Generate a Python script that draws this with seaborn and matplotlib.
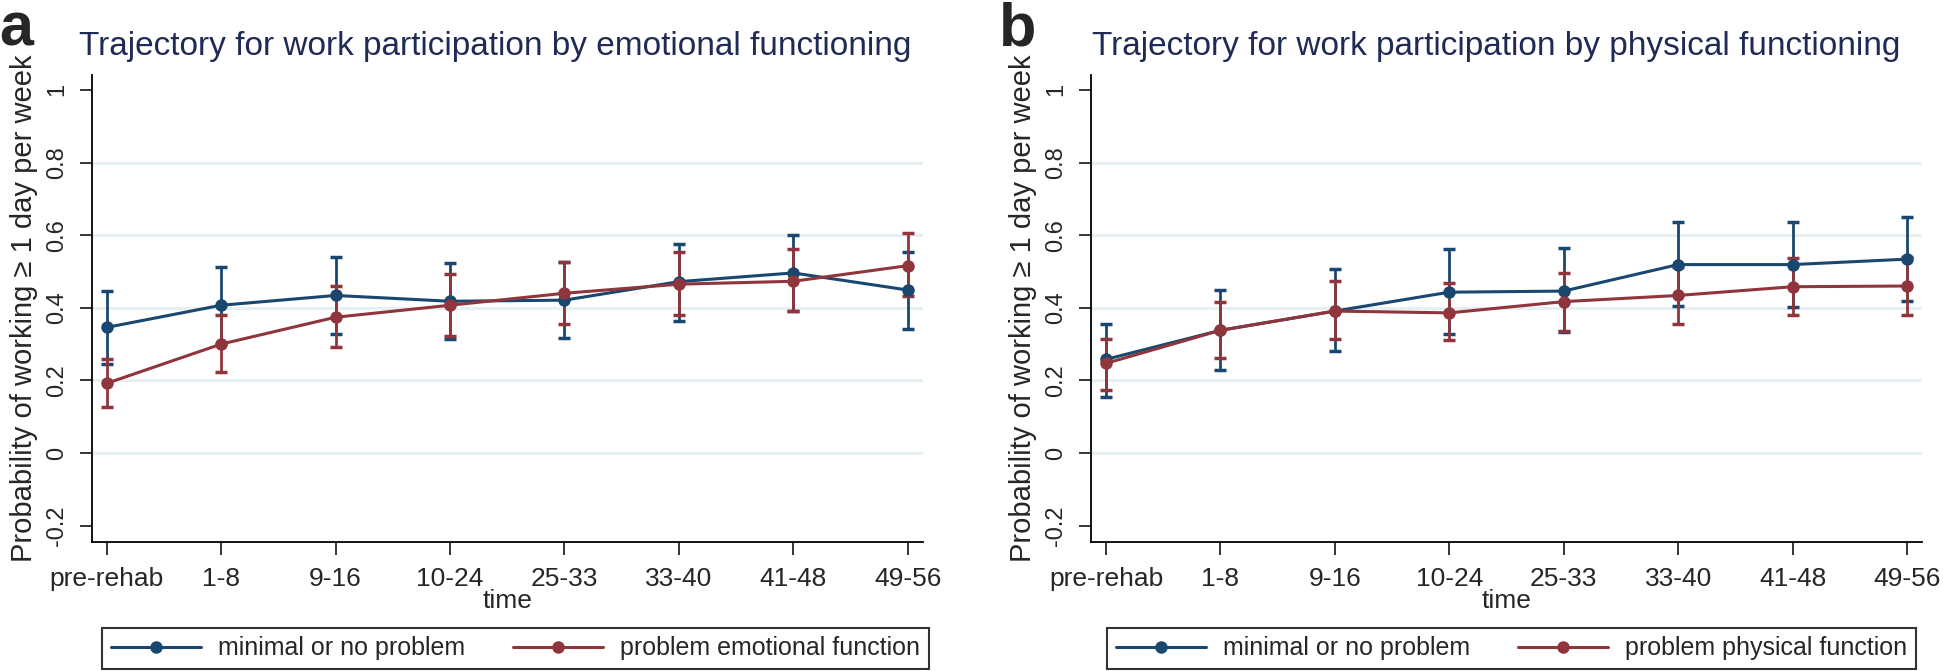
import pandas as pd
import matplotlib
matplotlib.use('Agg')
import matplotlib.pyplot as plt
from matplotlib.lines import Line2D
import seaborn as sns

# Data
time_labels = ['pre-rehab', '1-8', '9-16', '10-24', '25-33', '33-40', '41-48', '49-56']

# panel a: emotional functioning
emo_none = [0.346, 0.407, 0.434, 0.418, 0.421, 0.472, 0.496, 0.449]
emo_none_lo = [0.244, 0.300, 0.329, 0.314, 0.318, 0.364, 0.390, 0.342]
emo_none_hi = [0.446, 0.513, 0.541, 0.522, 0.525, 0.575, 0.600, 0.553]
emo_prob = [0.192, 0.300, 0.374, 0.407, 0.440, 0.465, 0.473, 0.516]
emo_prob_lo = [0.127, 0.223, 0.292, 0.323, 0.355, 0.381, 0.390, 0.432]
emo_prob_hi = [0.260, 0.381, 0.460, 0.493, 0.527, 0.553, 0.562, 0.605]

# panel b: physical functioning
phys_none = [0.258, 0.338, 0.391, 0.443, 0.446, 0.519, 0.519, 0.534]
phys_none_lo = [0.154, 0.228, 0.280, 0.329, 0.333, 0.405, 0.403, 0.418]
phys_none_hi = [0.356, 0.449, 0.506, 0.561, 0.564, 0.637, 0.637, 0.651]
phys_prob = [0.247, 0.338, 0.391, 0.386, 0.417, 0.434, 0.458, 0.460]
phys_prob_lo = [0.175, 0.262, 0.314, 0.311, 0.335, 0.356, 0.379, 0.381]
phys_prob_hi = [0.314, 0.416, 0.473, 0.467, 0.496, 0.513, 0.538, 0.540]

NAVY = '#1a476f'
MAROON = '#90353b'
GRID = '#e6eff1'
TITLE_C = '#1f2a55'

sns.set_style('white')
plt.rcParams['font.family'] = ['Liberation Sans', 'DejaVu Sans']

W, H = 1943, 671
fig = plt.figure(figsize=(W / 100, H / 100), dpi=100)


def panel(left_px, letter, title, title_cx, none_vals, none_lo, none_hi,
          prob_vals, prob_lo, prob_hi, prob_label, leg_x0):
    ax = fig.add_axes([left_px / W, 1 - 542.3 / H, 831 / W, (542.3 - 75) / H])
    pos = list(range(len(time_labels)))
    df = pd.DataFrame({
        'pos': pos * 2,
        'prob': none_vals + prob_vals,
        'group': ['minimal or no problem'] * len(pos) + [prob_label] * len(pos),
    })
    for y in [0, 0.2, 0.4, 0.6, 0.8]:
        ax.axhline(y, color=GRID, lw=2.2, zorder=0)
    ax.errorbar(pos, none_vals,
                yerr=[[v - l for v, l in zip(none_vals, none_lo)],
                      [h - v for v, h in zip(none_vals, none_hi)]],
                fmt='none', ecolor=NAVY, elinewidth=2.0, capsize=4, capthick=2.5, zorder=2)
    ax.errorbar(pos, prob_vals,
                yerr=[[v - l for v, l in zip(prob_vals, prob_lo)],
                      [h - v for v, h in zip(prob_vals, prob_hi)]],
                fmt='none', ecolor=MAROON, elinewidth=2.0, capsize=4, capthick=2.5, zorder=3)
    sns.lineplot(data=df, x='pos', y='prob', hue='group',
                 palette=[NAVY, MAROON], marker='o', markersize=9,
                 markeredgewidth=0, linewidth=2.2, legend=False, ax=ax, zorder=4)
    ax.set_xlim(-0.131, 7.131)
    ax.set_ylim(-0.2457, 1.041)
    ax.set_xticks(pos)
    ax.set_xticklabels(time_labels, fontsize=19)
    ax.set_yticks([-0.2, 0, 0.2, 0.4, 0.6, 0.8, 1])
    ax.set_yticklabels(['-0.2', '0', '0.2', '0.4', '0.6', '0.8', '1'],
                       rotation=90, va='center', fontsize=17)
    ax.tick_params(axis='x', length=9, width=1.3, pad=9, direction='out', bottom=True)
    ax.tick_params(axis='y', length=9, width=1.3, pad=8, direction='out', left=True)
    for s in ['top', 'right']:
        ax.spines[s].set_visible(False)
    for s in ['left', 'bottom']:
        ax.spines[s].set_color('black')
        ax.spines[s].set_linewidth(1.3)
    ax.set_xlabel('time', fontsize=19, labelpad=-2)
    ax.set_ylabel('Probability of working \u2265 1 day per week', fontsize=21, labelpad=6)
    fig.text(title_cx / W, 1 - 47 / H, title, fontsize=24, color=TITLE_C,
             ha='center', va='center')
    fig.text((left_px - 92) / W, 1 - 2 / H, letter, fontsize=44, fontweight='bold',
             ha='left', va='top')
    handles = [Line2D([], [], color=NAVY, lw=2.2, marker='o', markersize=9, markeredgewidth=0),
               Line2D([], [], color=MAROON, lw=2.2, marker='o', markersize=9, markeredgewidth=0)]
    leg = ax.legend(handles, ['minimal or no problem', prob_label], ncol=2,
                    loc='lower left', borderaxespad=0,
                    bbox_to_anchor=(leg_x0 / W, 2 / H),
                    bbox_transform=fig.transFigure, fontsize=18, handlelength=3.6,
                    handletextpad=0.7, columnspacing=1.9, fancybox=False,
                    frameon=True, borderpad=0.35)
    leg.get_frame().set_edgecolor('black')
    leg.get_frame().set_linewidth(1.5)
    return ax


panel(91.7, 'a', 'Trajectory for work participation by emotional functioning', 495,
      emo_none, emo_none_lo, emo_none_hi, emo_prob, emo_prob_lo, emo_prob_hi,
      'problem emotional function', 102)
panel(1091, 'b', 'Trajectory for work participation by physical functioning', 1496,
      phys_none, phys_none_lo, phys_none_hi, phys_prob, phys_prob_lo, phys_prob_hi,
      'problem physical function', 1107)

fig.savefig('out.png', dpi=100)
